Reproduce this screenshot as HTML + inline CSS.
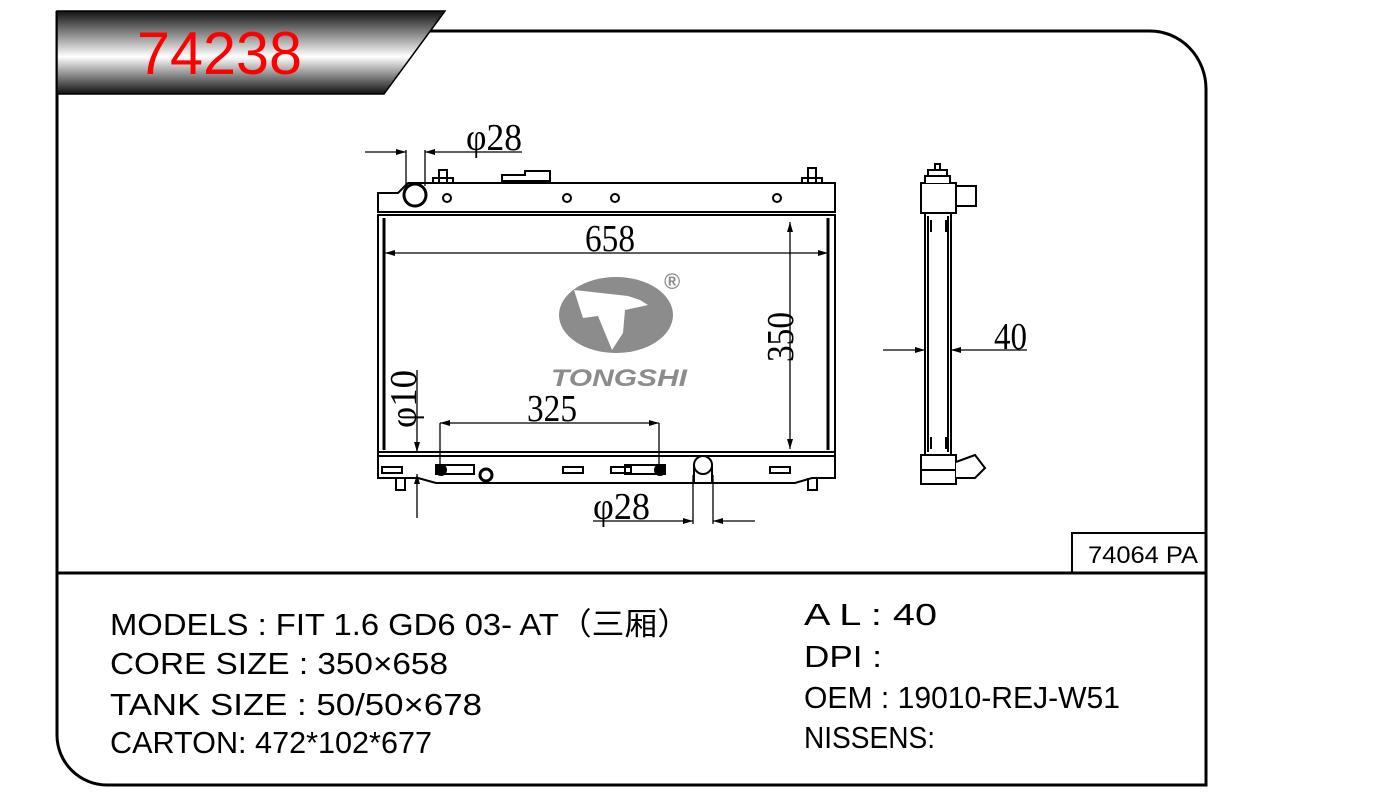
<!DOCTYPE html>
<html><head><meta charset="utf-8"><style>
html,body{margin:0;padding:0;background:#fff;}
svg{display:block;}
.t{font-family:"Liberation Sans","Noto Sans CJK SC",sans-serif;font-size:31px;fill:#000;}
.d{font-family:"Liberation Serif",serif;font-size:38px;fill:#000;}
</style></head><body>
<svg width="1399" height="801" viewBox="0 0 1399 801" xmlns="http://www.w3.org/2000/svg">
<defs>
<linearGradient id="g" x1="0" y1="0" x2="0" y2="1">
<stop offset="0" stop-color="#111"/><stop offset="0.55" stop-color="#fff"/><stop offset="1" stop-color="#111"/>
</linearGradient>
<marker id="a" viewBox="0 0 10 6" refX="10" refY="3" markerWidth="14" markerHeight="6" markerUnits="userSpaceOnUse" orient="auto"><path d="M0,0L10,3L0,6z" fill="#000"/></marker>
</defs>
<path d="M430,31 H1150 A56,58 0 0 1 1206,89 V785 H107 A50,50 0 0 1 57,735 V11" fill="none" stroke="#000" stroke-width="3"/>
<line x1="57" y1="573" x2="1206" y2="573" stroke="#000" stroke-width="3"/>
<rect x="1072" y="533" width="134" height="40" fill="none" stroke="#000" stroke-width="2"/>
<text x="1088" y="563" style="font-family:'Liberation Sans',sans-serif;font-size:24px" textLength="110" lengthAdjust="spacingAndGlyphs">74064 PA</text>
<path d="M57,11 H445 L384,94 H57 Z" fill="url(#g)" stroke="#000" stroke-width="1.5"/>
<text x="137" y="74" style="font-family:'Liberation Sans',sans-serif;font-size:60px;fill:#f00" textLength="165" lengthAdjust="spacingAndGlyphs">74238</text>
<g fill="none" stroke="#000" stroke-width="2">
<path d="M378,212 V193 H398 L408,183 H835 V212 Z" fill="#fff"/>
<line x1="378" y1="212" x2="835" y2="212"/>
<circle cx="415" cy="195" r="11" stroke-width="3"/>
<path d="M439,183 V170 H447 V183 M433,183 V178 H453 V183"/>
<path d="M808,183 V168 H816 V183 M802,183 V178 H822 V183"/>
<path d="M502,181 V175 H525 V171 H550 V181 Z"/>
<rect x="378" y="215" width="457" height="237"/>
<line x1="384" y1="218" x2="384" y2="450" stroke-width="3"/>
<line x1="828" y1="218" x2="828" y2="450" stroke-width="3"/>
<path d="M378,452 H835 V478 H812 L795,483 H436 L418,478 H378 Z" fill="#fff"/>
<line x1="378" y1="456" x2="835" y2="456"/>
<rect x="382" y="467" width="20" height="6"/><rect x="563" y="467" width="20" height="6"/>
<rect x="611" y="467" width="20" height="6"/><rect x="770" y="467" width="20" height="6"/>
<path d="M396,478 V490 H405 V478"/><path d="M808,478 V490 H817 V478"/>
<rect x="436" y="465" width="38" height="9"/>
<rect x="625" y="465" width="40" height="9"/>
<circle cx="486" cy="475" r="6" stroke-width="3"/>
<circle cx="703" cy="465" r="9"/>
<path d="M694,465 V483 M712,465 V483"/>
</g>
<circle cx="441" cy="470" r="6" fill="#000"/><circle cx="660" cy="470" r="6" fill="#000"/>
<g fill="#fff" stroke="#000" stroke-width="2">
<circle cx="447" cy="198" r="4"/><circle cx="567" cy="198" r="4"/><circle cx="615" cy="198" r="4"/><circle cx="777" cy="198" r="4"/>
</g>
<ellipse cx="616" cy="315" rx="57" ry="38" fill="#8c8c8c"/>
<path d="M574,290 L628,296 L640,300 L648,305 L625,310 L623,333 L612,350 L598,316 L583,318 Z" fill="#fff"/>
<text x="664" y="289" style="font-family:'Liberation Sans',sans-serif;font-size:22px;fill:#8c8c8c;font-weight:bold">®</text>
<text x="551" y="386" style="font-family:'Liberation Sans',sans-serif;font-size:24px;font-weight:bold;font-style:italic;fill:#8c8c8c" textLength="136" lengthAdjust="spacingAndGlyphs">TONGSHI</text>
<g stroke="#000" stroke-width="1.3" fill="none">
<line x1="406" y1="253" x2="385" y2="253" marker-end="url(#a)"/><line x1="406" y1="253" x2="828" y2="253" marker-end="url(#a)"/>
<line x1="790" y1="300" x2="790" y2="222" marker-end="url(#a)"/><line x1="790" y1="300" x2="790" y2="449" marker-end="url(#a)"/>
<line x1="540" y1="423" x2="440" y2="423" marker-end="url(#a)"/><line x1="540" y1="423" x2="659" y2="423" marker-end="url(#a)"/>
<line x1="440" y1="423" x2="440" y2="465"/><line x1="659" y1="423" x2="659" y2="465"/>
<line x1="365" y1="152" x2="406" y2="152" marker-end="url(#a)"/><line x1="522" y1="152" x2="425" y2="152" marker-end="url(#a)"/>
<line x1="406" y1="150" x2="406" y2="186"/><line x1="425" y1="150" x2="425" y2="186"/>
<line x1="417" y1="370" x2="417" y2="452" marker-end="url(#a)"/><line x1="417" y1="518" x2="417" y2="474" marker-end="url(#a)"/>
<line x1="593" y1="521" x2="693" y2="521" marker-end="url(#a)"/><line x1="755" y1="521" x2="713" y2="521" marker-end="url(#a)"/>
<line x1="693" y1="475" x2="693" y2="524"/><line x1="713" y1="475" x2="713" y2="524"/>
<line x1="883" y1="350" x2="925" y2="350" marker-end="url(#a)"/><line x1="1027" y1="350" x2="951" y2="350" marker-end="url(#a)"/>
</g>
<text class="d" x="585" y="251" textLength="50" lengthAdjust="spacingAndGlyphs">658</text>
<text class="d" x="527" y="421" textLength="50" lengthAdjust="spacingAndGlyphs">325</text>
<text class="d" x="466" y="150" textLength="56" lengthAdjust="spacingAndGlyphs">φ28</text>
<text class="d" x="593" y="519" textLength="57" lengthAdjust="spacingAndGlyphs">φ28</text>
<text class="d" x="994" y="349" textLength="33" lengthAdjust="spacingAndGlyphs">40</text>
<text class="d" transform="translate(793,362) rotate(-90)" textLength="50" lengthAdjust="spacingAndGlyphs">350</text>
<text class="d" transform="translate(416,428) rotate(-90)" textLength="58" lengthAdjust="spacingAndGlyphs">φ10</text>
<g fill="#fff" stroke="#000" stroke-width="2">
<rect x="925" y="213" width="26" height="242"/>
<line x1="928" y1="216" x2="928" y2="452"/><line x1="948" y1="216" x2="948" y2="452"/>
<rect x="956" y="186" width="20" height="20"/>
<rect x="921" y="183" width="35" height="30"/>
<path d="M925,183 V176 H950 V183 M928,176 V170 H947 V176 M935,170 V164 H940 V170"/>
<rect x="921" y="455" width="35" height="29"/>
<line x1="921" y1="470" x2="956" y2="470"/>
<path d="M956,462 L975,455 L985,468 L975,478 L956,478"/>
</g>
<g stroke="#000" stroke-width="2">
<line x1="931" y1="220" x2="931" y2="232"/><line x1="946" y1="220" x2="946" y2="232"/>
<line x1="931" y1="437" x2="931" y2="449"/><line x1="946" y1="437" x2="946" y2="449"/>
</g>
<text class="t" x="110" y="635" textLength="580" lengthAdjust="spacingAndGlyphs">MODELS : FIT 1.6 GD6 03- AT（三厢）</text>
<text class="t" x="110" y="674" textLength="338" lengthAdjust="spacingAndGlyphs">CORE SIZE : 350×658</text>
<text class="t" x="110" y="715" textLength="372" lengthAdjust="spacingAndGlyphs">TANK SIZE : 50/50×678</text>
<text class="t" x="110" y="753" textLength="322" lengthAdjust="spacingAndGlyphs">CARTON: 472*102*677</text>
<text class="t" x="804" y="625" textLength="133" lengthAdjust="spacingAndGlyphs">A L : 40</text>
<text class="t" x="804" y="667" textLength="78" lengthAdjust="spacingAndGlyphs">DPI :</text>
<text class="t" x="804" y="708" textLength="316" lengthAdjust="spacingAndGlyphs">OEM : 19010-REJ-W51</text>
<text class="t" x="804" y="748" textLength="131" lengthAdjust="spacingAndGlyphs">NISSENS:</text>
</svg>
</body></html>
